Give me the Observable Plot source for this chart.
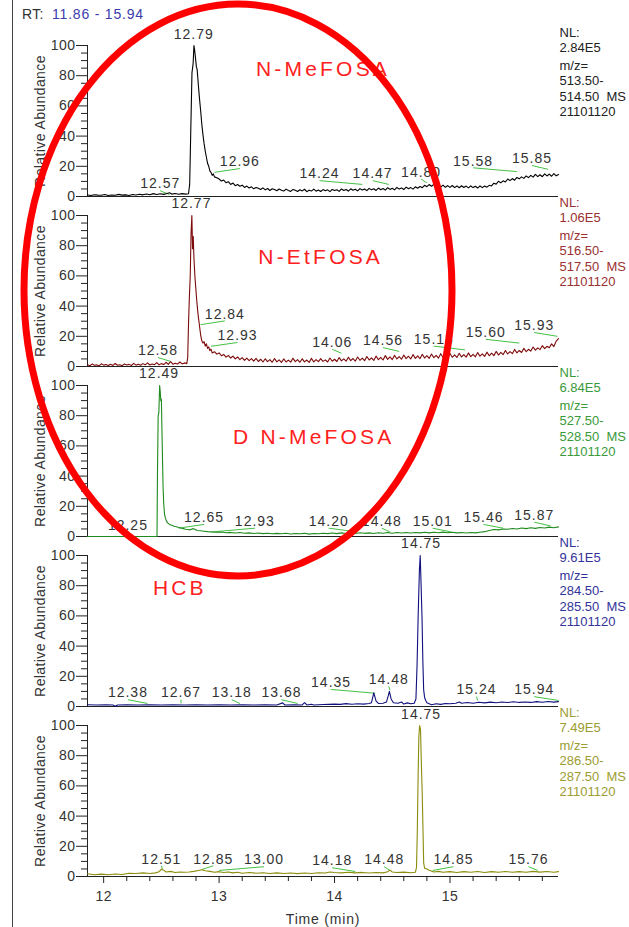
<!DOCTYPE html>
<html>
<head>
<meta charset="utf-8">
<script src="https://cdn.jsdelivr.net/npm/d3@7"></script>
<script src="https://cdn.jsdelivr.net/npm/@observablehq/plot@0.6"></script>
<style>
html, body { margin: 0; padding: 0; background: #fff; }
#page { position: relative; width: 629px; height: 927px; overflow: hidden; font-family: "Liberation Sans", Arial, sans-serif; }
#header { height: 28px; position: relative; font-size: 14px; }
#rt { position: absolute; left: 22px; top: 6px; line-height: 16px; color: #333; white-space: pre; letter-spacing: 0.3px; }
#rt span { color: #3b3bab; letter-spacing: 0.8px; }
#border { position: absolute; left: 12px; top: 0; width: 1px; height: 927px; background: #444; }
#overlay { position: absolute; left: 0; top: 0; pointer-events: none; }
#chart svg { overflow: visible; display: block; }
</style>
</head>
<body>
<div id="page">
  <div id="header"><div id="rt">RT:  <span>11.86 - 15.94</span></div></div>
  <div id="chart"></div>
  <div id="border"></div>
  <svg id="overlay" width="629" height="927"></svg>
</div>
<script>
// ---------- data ----------
const panels = ["513.50-514.50", "516.50-517.50", "527.50-528.50", "284.50-285.50", "286.50-287.50"];
const nlLevels = ["2.84E5", "1.06E5", "6.84E5", "9.61E5", "7.49E5"];
const scanId = "21101120";
const compoundNames = ["N-MeFOSA", "N-EtFOSA", "D N-MeFOSA", "HCB"];
const compoundTimes = [13.90, 13.88, 13.82, 12.66];
const compoundLevels = [79.5, 67.8, 61.3, 73.8];

const xDomain = [11.86, 15.94];
const yDomain = [0, 100];
const xTicks = [12, 13, 14, 15];
const xMinorTicks = [12.2, 12.4, 12.6, 12.8, 13.2, 13.4, 13.6, 13.8, 14.2, 14.4, 14.6, 14.8, 15.2, 15.4, 15.6, 15.8];
const yTicks = [0, 20, 40, 60, 80, 100];
const yMinorTicks = [5, 10, 15, 25, 30, 35, 45, 50, 55, 65, 70, 75, 85, 90, 95];

// [time (min), relative abundance (%)]
const traceNMeFOSA = [[11.86,1.0],[11.89,0.7],[11.92,1.2],[11.95,0.9],[11.98,0.8],[12.01,1.3],[12.04,0.7],[12.07,1.0],[12.10,0.8],[12.13,1.4],[12.16,0.9],[12.19,1.1],[12.22,0.7],[12.25,1.3],[12.28,1.0],[12.31,1.5],[12.34,1.1],[12.37,1.7],[12.40,1.2],[12.43,1.9],[12.46,1.3],[12.49,1.8],[12.52,1.4],[12.55,2.0],[12.57,2.5],[12.59,1.6],[12.62,2.0],[12.65,1.5],[12.68,1.9],[12.71,1.6],[12.735,1.8],[12.745,8],[12.755,45],[12.765,82],[12.775,88],[12.782,100],[12.788,97],[12.795,92],[12.803,86],[12.81,84],[12.82,74],[12.83,65],[12.84,57],[12.85,48],[12.86,41],[12.87,35],[12.88,30],[12.89,26],[12.90,22],[12.91,20],[12.92,17],[12.93,16],[12.94,14],[12.95,15],[12.96,13],[12.98,12.4],
[13.00,11.6],[13.02,10.2],[13.04,10.9],[13.06,9.1],[13.08,9.8],[13.10,8.0],[13.12,8.9],[13.14,7.2],[13.16,7.9],[13.18,6.8],[13.20,7.5],[13.22,6.0],[13.24,6.9],[13.26,5.6],[13.28,6.4],[13.30,5.1],[13.32,6.0],[13.34,5.4],[13.36,4.6],[13.38,5.7],[13.40,4.4],[13.42,5.3],[13.44,4.0],[13.46,5.1],[13.48,4.6],[13.50,3.8],[13.52,5.0],[13.54,4.2],[13.56,3.6],[13.58,4.9],[13.60,4.0],[13.62,3.4],[13.64,4.7],[13.66,4.1],[13.68,3.3],[13.70,4.5],[13.72,3.7],[13.74,4.8],[13.76,3.2],[13.78,4.2],[13.80,3.6],[13.82,4.9],[13.84,3.5],[13.86,4.3],[13.88,3.3],[13.90,4.6],[13.92,3.8],[13.94,4.4],[13.96,3.2],[13.98,4.7],[14.00,3.9],[14.02,4.5],[14.04,3.4],[14.06,5.0],[14.08,4.0],[14.10,4.6],[14.12,3.6],[14.14,5.1],[14.16,4.2],[14.18,4.8],[14.20,3.7],[14.22,5.2],[14.24,4.3],[14.26,5.0],[14.28,3.9],[14.30,5.4],[14.32,4.4],[14.34,5.1],[14.36,4.0],[14.38,5.6],[14.40,4.5],[14.42,5.3],[14.44,4.2],[14.46,5.8],[14.48,4.7],[14.50,5.5],[14.52,4.4],[14.54,6.0],[14.56,4.9],[14.58,5.7],[14.60,4.6],[14.62,6.2],[14.64,5.1],[14.66,5.9],[14.68,4.9],[14.70,6.4],[14.72,5.5],[14.74,6.6],[14.76,5.8],[14.78,7.4],[14.80,6.5],[14.82,7.9],[14.84,6.8],[14.86,8.0],[14.88,6.6],[14.90,7.6],[14.92,6.3],[14.94,7.5],[14.96,6.1],[14.98,7.2],[15.00,6.0],[15.02,7.3],[15.04,5.9],[15.06,7.0],[15.08,5.8],[15.10,7.1],[15.12,6.0],[15.14,6.9],[15.16,5.7],[15.18,7.0],[15.20,5.9],[15.22,6.8],[15.24,5.6],[15.26,7.0],[15.28,5.9],[15.30,6.9],[15.32,6.2],[15.34,7.4],[15.36,7.0],[15.38,8.8],[15.40,8.2],[15.42,10.1],[15.44,9.0],[15.46,10.4],[15.48,9.6],[15.50,11.6],[15.52,10.5],[15.54,11.9],[15.56,10.8],[15.58,12.6],[15.60,11.7],[15.62,13.0],[15.64,12.0],[15.66,13.6],[15.68,12.5],[15.70,14.0],[15.72,12.8],[15.74,14.6],[15.76,13.2],[15.78,14.4],[15.80,13.1],[15.82,15.0],[15.84,13.6],[15.86,14.8],[15.88,13.4],[15.90,15.2],[15.92,13.7],[15.94,14.6]];

const traceNEtFOSA = [[11.86,1.2],[11.88,0.5],[11.90,1.6],[11.92,0.8],[11.94,1.1],[11.96,0.4],[11.98,1.8],[12.00,0.9],[12.02,1.3],[12.04,0.6],[12.06,1.5],[12.08,0.7],[12.10,2.0],[12.12,0.8],[12.14,1.2],[12.16,0.5],[12.18,1.7],[12.20,1.0],[12.22,1.4],[12.24,0.6],[12.26,2.1],[12.28,0.9],[12.30,1.5],[12.32,0.8],[12.34,1.9],[12.36,1.1],[12.38,2.4],[12.40,1.0],[12.42,1.7],[12.44,1.2],[12.46,2.6],[12.48,1.1],[12.50,1.9],[12.52,1.3],[12.54,2.8],[12.56,1.4],[12.58,3.2],[12.60,1.5],[12.62,2.2],[12.64,1.6],[12.66,3.0],[12.68,1.7],[12.70,2.4],[12.72,1.9],[12.728,6],[12.735,28],[12.742,45],[12.75,60],[12.757,88],[12.764,100],[12.77,78],[12.776,86],[12.782,72],[12.79,60],[12.797,53],[12.805,45],[12.813,38],[12.82,33],[12.83,27],[12.84,21],[12.85,17],[12.86,15.5],[12.87,16.5],[12.88,13.5],[12.89,15],[12.90,12],[12.91,13],[12.92,10.5],[12.93,11.5],[12.94,9],
[12.96,9.8],[12.98,8.2],[13.00,9.0],[13.02,7.1],[13.04,8.0],[13.06,6.2],[13.08,7.4],[13.10,5.6],[13.12,6.9],[13.14,5.0],[13.16,6.3],[13.18,4.6],[13.20,5.9],[13.22,4.1],[13.24,5.6],[13.26,3.9],[13.28,5.2],[13.30,3.5],[13.32,5.4],[13.34,3.3],[13.36,4.8],[13.38,3.0],[13.40,5.1],[13.42,3.2],[13.44,4.6],[13.46,2.8],[13.48,5.3],[13.50,3.1],[13.52,4.4],[13.54,2.7],[13.56,5.0],[13.58,3.0],[13.60,4.2],[13.62,2.9],[13.64,5.5],[13.66,3.2],[13.68,4.5],[13.70,2.8],[13.72,5.1],[13.74,3.1],[13.76,4.3],[13.78,2.7],[13.80,5.4],[13.82,3.0],[13.84,4.6],[13.86,3.2],[13.88,5.2],[13.90,3.4],[13.92,4.4],[13.94,3.0],[13.96,5.6],[13.98,3.5],[14.00,4.8],[14.02,3.3],[14.04,5.9],[14.06,3.7],[14.08,5.0],[14.10,3.5],[14.12,6.1],[14.14,3.9],[14.16,5.3],[14.18,3.6],[14.20,6.3],[14.22,4.1],[14.24,5.5],[14.26,3.9],[14.28,6.6],[14.30,4.3],[14.32,5.7],[14.34,4.0],[14.36,6.9],[14.38,4.5],[14.40,6.0],[14.42,4.3],[14.44,7.2],[14.46,4.7],[14.48,6.3],[14.50,4.6],[14.52,7.4],[14.54,5.0],[14.56,6.5],[14.58,4.8],[14.60,7.6],[14.62,5.2],[14.64,6.8],[14.66,5.0],[14.68,7.9],[14.70,5.4],[14.72,7.0],[14.74,5.2],[14.76,8.1],[14.78,5.6],[14.80,7.2],[14.82,5.4],[14.84,8.3],[14.86,5.8],[14.88,7.4],[14.90,5.6],[14.92,8.5],[14.94,6.0],[14.96,7.6],[14.98,5.8],[15.00,8.6],[15.02,6.1],[15.04,7.7],[15.06,6.0],[15.08,8.8],[15.10,6.3],[15.12,7.9],[15.14,6.2],[15.16,9.0],[15.18,6.5],[15.20,8.1],[15.22,6.4],[15.24,9.2],[15.26,6.8],[15.28,8.4],[15.30,6.7],[15.32,9.5],[15.34,7.1],[15.36,8.8],[15.38,7.2],[15.40,10.0],[15.42,7.6],[15.44,9.3],[15.46,7.8],[15.48,10.6],[15.50,8.3],[15.52,9.9],[15.54,8.5],[15.56,11.3],[15.58,9.0],[15.60,10.6],[15.62,9.3],[15.64,12.0],[15.66,9.8],[15.68,11.4],[15.70,10.2],[15.72,12.9],[15.74,10.8],[15.76,12.3],[15.78,11.2],[15.80,13.8],[15.82,11.8],[15.84,13.4],[15.86,12.4],[15.88,15.0],[15.90,13.2],[15.92,16.8],[15.94,18.5]];

const traceDNMeFOSA = [[11.86,0],[12.462,0],[12.466,40],[12.472,80],[12.478,82],[12.485,100],[12.49,96],[12.495,90],[12.50,91],[12.505,70],[12.51,50],[12.515,32],[12.52,22],[12.527,15],[12.535,12],[12.545,10],[12.555,9],[12.57,8],[12.59,7.5],[12.61,6.8],[12.63,6.5],[12.65,6.0],[12.67,5.6],[12.69,5.2],[12.71,4.8],[12.73,4.6],[12.75,4.4],[12.77,5.2],[12.79,4.8],[12.81,4.0],[12.84,3.8],[12.87,3.5],[12.90,3.2],[12.94,3.0],[12.98,2.8],[13.02,3.0],[13.06,2.5],[13.10,2.7],[13.14,2.3],[13.18,2.6],[13.22,2.2],[13.26,2.4],[13.30,2.0],[13.34,2.3],[13.38,1.9],[13.42,2.2],[13.46,1.8],[13.50,2.1],[13.54,1.8],[13.58,2.2],[13.62,1.7],[13.66,2.0],[13.70,1.8],[13.74,2.1],[13.78,1.6],[13.82,2.0],[13.86,1.8],[13.90,2.2],[13.94,1.9],[13.98,2.3],[14.02,1.9],[14.06,2.4],[14.10,2.0],[14.14,2.3],[14.18,2.0],[14.22,2.5],[14.26,2.1],[14.30,2.4],[14.34,2.0],[14.38,2.5],[14.42,2.2],[14.46,2.6],[14.50,2.2],[14.54,2.7],[14.58,2.3],[14.62,2.6],[14.66,2.3],[14.70,2.7],[14.74,2.4],[14.78,2.8],[14.82,2.4],[14.86,2.8],[14.90,2.5],[14.94,2.9],[14.98,2.5],[15.02,2.8],[15.06,2.4],[15.10,2.7],[15.14,2.3],[15.18,2.6],[15.22,2.4],[15.26,2.8],[15.30,3.2],[15.34,4.0],[15.38,4.6],[15.42,4.4],[15.46,5.0],[15.50,4.8],[15.54,5.3],[15.58,5.0],[15.62,5.6],[15.66,5.2],[15.70,5.8],[15.74,5.4],[15.78,6.0],[15.82,5.6],[15.86,6.2],[15.90,5.8],[15.94,6.4]];

const traceHCB285 = [[11.86,1.2],[11.94,1.0],[12.02,1.1],[12.08,1.0],[12.10,0.2],[12.12,1.0],[12.20,1.1],[12.30,1.0],[12.40,1.2],[12.50,1.0],[12.60,1.1],[12.70,1.0],[12.80,1.2],[12.90,1.0],[13.00,1.1],[13.10,1.0],[13.20,1.2],[13.30,1.0],[13.40,1.1],[13.50,1.0],[13.55,2.4],[13.57,1.0],[13.65,1.2],[13.72,1.0],[13.74,2.6],[13.76,1.0],[13.80,1.5],[13.82,1.0],[13.90,1.3],[14.00,1.6],[14.05,1.4],[14.10,1.9],[14.15,1.5],[14.20,1.8],[14.25,1.6],[14.30,2.0],[14.32,2.5],[14.34,9],[14.36,3.5],[14.38,2.0],[14.42,2.2],[14.45,3.0],[14.465,7],[14.475,10],[14.49,5],[14.51,2.5],[14.55,2.2],[14.58,3.0],[14.60,1.6],[14.63,2.4],[14.66,1.8],[14.69,2.2],[14.705,5],[14.715,28],[14.725,62],[14.735,90],[14.742,100],[14.75,80],[14.758,58],[14.765,30],[14.772,11],[14.78,6],[14.79,4],[14.80,2.5],[14.84,1.2],[14.88,1.8],[14.92,1.4],[14.96,2.0],[15.00,1.8],[15.05,2.2],[15.08,3.0],[15.10,2.2],[15.15,2.6],[15.20,2.2],[15.25,2.8],[15.30,2.4],[15.35,2.9],[15.40,2.5],[15.45,3.0],[15.50,2.6],[15.55,3.1],[15.60,2.7],[15.65,3.0],[15.70,2.7],[15.75,3.2],[15.80,2.8],[15.85,3.3],[15.90,2.9],[15.94,3.2]];

const traceHCB287 = [[11.86,1.8],[11.92,1.2],[11.98,1.6],[12.04,1.2],[12.10,1.7],[12.16,1.3],[12.22,2.2],[12.28,2.0],[12.34,2.4],[12.40,2.0],[12.45,2.4],[12.48,3.2],[12.50,4.8],[12.52,4.2],[12.54,3.0],[12.58,3.4],[12.62,2.6],[12.66,3.0],[12.70,2.8],[12.74,3.0],[12.78,3.4],[12.82,4.0],[12.85,4.5],[12.88,3.8],[12.92,3.4],[12.96,2.8],[13.00,3.2],[13.04,2.6],[13.08,3.0],[13.12,2.4],[13.16,2.8],[13.20,2.2],[13.26,2.6],[13.32,2.2],[13.38,2.5],[13.44,2.0],[13.50,2.4],[13.56,2.0],[13.62,2.3],[13.68,1.9],[13.74,2.3],[13.80,2.0],[13.86,2.5],[13.92,2.3],[13.96,3.0],[14.00,2.6],[14.06,2.4],[14.12,2.8],[14.18,2.4],[14.24,2.7],[14.30,2.3],[14.36,2.6],[14.42,2.4],[14.46,3.2],[14.48,4.2],[14.50,3.0],[14.54,2.6],[14.60,2.9],[14.66,2.5],[14.70,2.8],[14.71,6],[14.717,30],[14.723,62],[14.73,92],[14.737,100],[14.745,97],[14.752,75],[14.76,53],[14.767,28],[14.772,9],[14.78,5.5],[14.80,5.0],[14.82,4.2],[14.86,3.0],[14.90,3.4],[14.94,2.8],[15.00,3.2],[15.06,2.7],[15.12,3.2],[15.18,2.8],[15.24,3.3],[15.30,2.7],[15.36,3.2],[15.42,2.8],[15.48,3.3],[15.54,2.8],[15.60,3.2],[15.66,2.8],[15.72,3.4],[15.78,2.9],[15.84,3.3],[15.90,2.8],[15.94,3.2]];

// peak labels: [retention time text, label centre time, label baseline level %]
const labelsNMeFOSA = [["12.79",12.78,104],["12.57",12.49,5.3],["12.96",13.18,20],["14.24",13.87,12],["14.47",14.33,12],["14.80",14.75,13],["15.58",15.20,20.5],["15.85",15.71,22]];
const labelsNEtFOSA = [["12.77",12.76,104.7],["12.58",12.47,7.4],["12.84",13.05,31.7],["12.93",13.16,17.4],["14.06",13.98,12.8],["14.56",14.42,14],["15.13",14.86,15],["15.60",15.31,19.5],["15.93",15.73,24]];
const labelsDNMeFOSA = [["12.49",12.48,104.7],["12.25",12.21,4],["12.65",12.87,9.5],["12.93",13.31,7],["14.20",13.95,7],["14.48",14.41,7],["15.01",14.85,7],["15.46",15.29,9.5],["15.87",15.73,11]];
const labelsHCB285 = [["12.38",12.21,6],["12.67",12.67,6],["13.18",13.11,6],["13.68",13.54,6],["14.35",13.97,12.8],["14.48",14.47,14.8],["14.75",14.75,105],["15.24",15.23,8],["15.94",15.73,8]];
const labelsHCB287 = [["12.51",12.50,8.6],["12.85",12.95,8.6],["13.00",13.39,8],["14.18",13.98,7.3],["14.48",14.43,8],["14.75",14.75,104.6],["14.85",15.03,8],["15.76",15.68,8]];

// ---------- styles ----------
const traceColors = ["#000000", "#7d0a0a", "#1f8a1f", "#10107e", "#8c8c0c"];
const nlColors = ["#222222", "#9a3030", "#3a993a", "#333399", "#9c9c30"];
const inkColor = "#333333";
const axisColor = "#222222";
const leaderColor = "#44c044";
const noteColor = "#ff2020";

const traces = [traceNMeFOSA, traceNEtFOSA, traceDNMeFOSA, traceHCB285, traceHCB287];
const labelSets = [labelsNMeFOSA, labelsNEtFOSA, labelsDNMeFOSA, labelsHCB285, labelsHCB287];

const marks = [
  Plot.ruleX(xDomain.slice(0, 1), {stroke: axisColor}),
  Plot.ruleY(yDomain.slice(0, 1), {stroke: axisColor}),
  Plot.axisY({ticks: yMinorTicks, tickSize: 6, tickFormat: () => "", label: null, stroke: axisColor}),
  Plot.axisY({ticks: yTicks, tickSize: 11, tickPadding: 1, fontSize: 14, label: null, stroke: axisColor, fill: inkColor}),
  Plot.axisX({ticks: xMinorTicks, tickSize: 5, tickFormat: () => "", label: null, stroke: axisColor}),
  Plot.axisX({ticks: xTicks, tickSize: 7, tickPadding: 8, fontSize: 14, tickFormat: d => String(d), label: null, stroke: axisColor, fill: inkColor}),
  Plot.text(panels.map(p => ({panel: p})), {fy: "panel", x: () => xDomain[0], y: () => d3.mean(yDomain), text: () => "Relative Abundance", rotate: -90, dx: -47, fontSize: 14, fill: inkColor}),
  Plot.text([{panel: panels[4]}], {fy: "panel", text: () => "Time (min)", frameAnchor: "bottom", dy: 47, fontSize: 14, fill: inkColor})
];

panels.forEach((p, i) => {
  const rows = traces[i].map(([t, v]) => ({panel: p, t, v}));
  const labs = labelSets[i].map(([label, lt, lv]) => ({panel: p, label, rt: +label, lt, lv}));
  marks.push(
    Plot.link(labs.filter(d => d.lv < 100), {fy: "panel", x1: "lt", y1: d => d.lv - 1.5, x2: "rt", y2: d => d.lv - 4, stroke: leaderColor, strokeWidth: 1}),
    Plot.line(rows, {fy: "panel", x: "t", y: "v", stroke: traceColors[i], strokeWidth: 1.1}),
    Plot.text(labs, {fy: "panel", x: "lt", y: "lv", text: "label", lineAnchor: "bottom", fontSize: 14, fill: inkColor}),
    Plot.text([{panel: p, s: "NL:\n" + nlLevels[i]}], {fy: "panel", text: "s", frameAnchor: "top-right", textAnchor: "start", lineAnchor: "top", lineHeight: 1.2, dx: 1, dy: -20, fontSize: 13, fill: nlColors[i]}),
    Plot.text([{panel: p, s: "m/z=\n" + p.replace("-", "-\n") + "\u00a0\u00a0MS\n" + scanId}], {fy: "panel", text: "s", frameAnchor: "top-right", textAnchor: "start", lineAnchor: "top", lineHeight: 1.2, dx: 1, dy: 13, fontSize: 13, fill: nlColors[i]})
  );
  if (compoundNames[i]) {
    marks.push(Plot.text([{panel: p, name: compoundNames[i], t: compoundTimes[i], v: compoundLevels[i]}], {fy: "panel", x: "t", y: "v", text: "name", lineAnchor: "bottom", fontSize: 21, fill: noteColor}));
  }
});

const chart = Plot.plot({
  width: 629,
  height: 899,
  marginLeft: 87,
  marginRight: 71,
  marginTop: 16,
  marginBottom: 50,
  x: {domain: xDomain, label: null},
  y: {domain: yDomain, label: null},
  fy: {domain: panels, paddingInner: 0.1144, paddingOuter: 0, axis: null, label: null},
  style: {fontFamily: "'Liberation Sans', Arial, sans-serif", color: axisColor, background: "transparent", overflow: "visible"},
  marks
});
document.getElementById("chart").appendChild(chart);

// letter spacing to mimic the instrument software's text rendering
d3.select(chart).selectAll("text").each(function () {
  const s = this.textContent;
  const el = d3.select(this);
  if (compoundNames.includes(s)) el.style("letter-spacing", "3.2px");
  else if (/^\d\d\.\d\d$/.test(s)) el.style("letter-spacing", "1px");
  else if (/^\d{1,3}$/.test(s)) el.style("letter-spacing", "0.5px");
  else if (s === "Relative Abundance") el.style("letter-spacing", "0.4px");
  else if (s === "Time (min)") el.style("letter-spacing", "0.8px");
  else el.style("white-space", "pre");
});

// hand-drawn highlight ellipse (annotation)
const highlight = {cx: 238, cy: 290, rx: 214, ry: 286, width: 7};
d3.select("#overlay").append("ellipse")
  .attr("cx", highlight.cx).attr("cy", highlight.cy)
  .attr("rx", highlight.rx).attr("ry", highlight.ry)
  .attr("fill", "none").attr("stroke", "#ff0000").attr("stroke-width", highlight.width);
</script>
</body>
</html>
